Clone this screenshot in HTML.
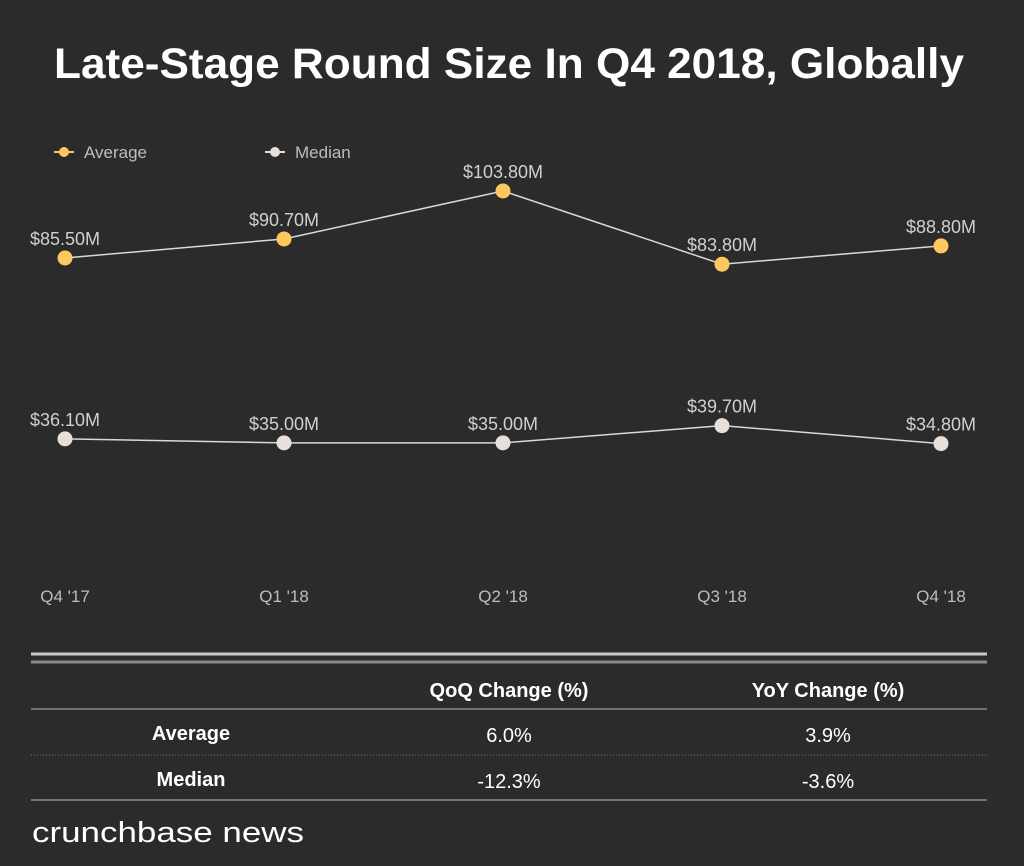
<!DOCTYPE html>
<html><head><meta charset="utf-8"><style>
html,body{margin:0;padding:0;background:#2b2b2b;}
svg{display:block;font-family:"Liberation Sans",sans-serif;}
</style></head><body>
<svg id="chart" width="1024" height="866" viewBox="0 0 1024 866" xmlns="http://www.w3.org/2000/svg">
<rect width="1024" height="866" fill="#2b2b2b"/>
<text x="509" y="78" text-anchor="middle" fill="#fff" font-size="43" font-weight="bold" textLength="910" lengthAdjust="spacingAndGlyphs">Late-Stage Round Size In Q4 2018, Globally</text>
<g>
<line x1="54" y1="152" x2="74" y2="152" stroke="#ffc85e" stroke-width="2"/>
<circle cx="64" cy="152" r="5" fill="#ffc85e"/>
<text x="84" y="158" fill="#bdbdbd" font-size="17">Average</text>
</g>
<g>
<line x1="265" y1="152" x2="285" y2="152" stroke="#e6dfda" stroke-width="2"/>
<circle cx="275" cy="152" r="5" fill="#e6dfda"/>
<text x="295" y="158" fill="#bdbdbd" font-size="17">Median</text>
</g>
<g id="plot"></g>
<g>
<line x1="31" y1="654" x2="987" y2="654" stroke="#c8c8c8" stroke-width="3"/>
<line x1="31" y1="662" x2="987" y2="662" stroke="#8a8a8a" stroke-width="3"/>
<text x="509" y="697" text-anchor="middle" fill="#fff" font-size="20" font-weight="bold">QoQ Change (%)</text>
<text x="828" y="697" text-anchor="middle" fill="#fff" font-size="20" font-weight="bold">YoY Change (%)</text>
<line x1="31" y1="709" x2="987" y2="709" stroke="#8a8a8a" stroke-width="1.5"/>
<text x="191" y="740" text-anchor="middle" fill="#fff" font-size="20" font-weight="bold">Average</text>
<text x="509" y="742" text-anchor="middle" fill="#fff" font-size="20">6.0%</text>
<text x="828" y="742" text-anchor="middle" fill="#fff" font-size="20">3.9%</text>
<line x1="31" y1="755" x2="987" y2="755" stroke="#777" stroke-width="1" stroke-dasharray="1,2"/>
<text x="191" y="786" text-anchor="middle" fill="#fff" font-size="20" font-weight="bold">Median</text>
<text x="509" y="788" text-anchor="middle" fill="#fff" font-size="20">-12.3%</text>
<text x="828" y="788" text-anchor="middle" fill="#fff" font-size="20">-3.6%</text>
<line x1="31" y1="800" x2="987" y2="800" stroke="#8a8a8a" stroke-width="1.5"/>
</g>
<text x="32" y="842" fill="#fff" font-size="29" textLength="272" lengthAdjust="spacingAndGlyphs">crunchbase news</text>
</svg>
<script>
const categories = ["Q4 '17", "Q1 '18", "Q2 '18", "Q3 '18", "Q4 '18"];
const averageValues = [85.5, 90.7, 103.8, 83.8, 88.8];
const medianValues = [36.1, 35.0, 35.0, 39.7, 34.8];
const averageLabels = ["$85.50M", "$90.70M", "$103.80M", "$83.80M", "$88.80M"];
const medianLabels = ["$36.10M", "$35.00M", "$35.00M", "$39.70M", "$34.80M"];

const NS = "http://www.w3.org/2000/svg";
const plot = document.getElementById('plot');
function xPos(i){ return 65 + i * 219; }
function yPos(v){ return 571 - v * 3.661; }
function mk(tag, attrs){ const e = document.createElementNS(NS, tag); for (const k in attrs) e.setAttribute(k, attrs[k]); return e; }

function drawSeries(vals, labels, color, name){
  const g = mk('g', {});
  
  
  const pts = vals.map((v, i) => xPos(i) + ',' + yPos(v)).join(' ');
  const line = mk('polyline', {points: pts, fill: 'none', stroke: '#d9d9d9', 'stroke-width': 1.5});
  
  
  g.appendChild(line);
  vals.forEach((v, i) => {
    const c = mk('circle', {cx: xPos(i), cy: yPos(v), r: 7.5, fill: color});
    
    
    g.appendChild(c);
    const t = mk('text', {x: xPos(i), y: yPos(v) - 13, 'text-anchor': 'middle', fill: '#d0d0d0', 'font-size': 18});
    t.textContent = labels[i];
    
    
    g.appendChild(t);
  });
  plot.appendChild(g);
}
drawSeries(averageValues, averageLabels, '#ffc85e', 'average');
drawSeries(medianValues, medianLabels, '#e6dfda', 'median');
categories.forEach((c, i) => {
  const t = mk('text', {x: xPos(i), y: 602, 'text-anchor': 'middle', fill: '#bdbdbd', 'font-size': 17});
  t.textContent = c;
  
  
  plot.appendChild(t);
});
</script>
</body></html>
